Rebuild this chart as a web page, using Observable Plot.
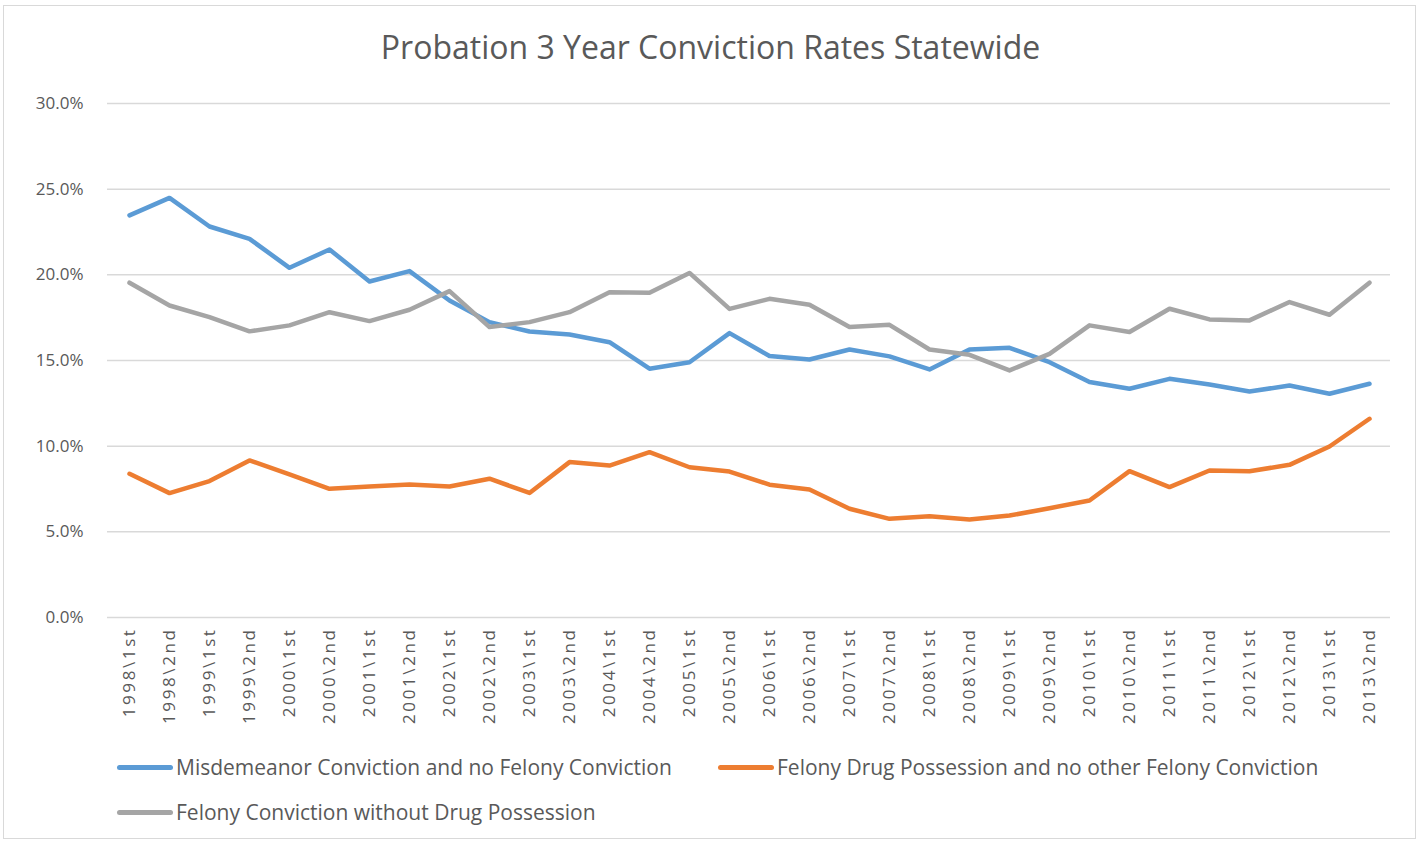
<!DOCTYPE html>
<html>
<head>
<meta charset="utf-8">
<script src="https://cdn.jsdelivr.net/npm/d3@7"></script>
<script src="https://cdn.jsdelivr.net/npm/@observablehq/plot@0.6"></script>
<style>
  body { margin: 0; background: #fff; font-family: "Open Sans", sans-serif; }
  #frame { position: absolute; left: 3px; top: 5px; width: 1413px; height: 834px; border: 1px solid #d9d9d9; box-sizing: border-box; }
  #title { position: absolute; left: 0; top: 25px; width: 1421px; text-align: center; font-size: 32px; color: #595959; }
  #chart { position: absolute; left: 0; top: 0; }
  .leg { position: absolute; font-size: 21px; color: #595959; display: flex; align-items: center; white-space: nowrap; }
  .sw { width: 56px; height: 5px; border-radius: 3px; margin-right: 3px; }
  g[aria-label="x-axis tick label"] text { letter-spacing: 2.6px; }
</style>
</head>
<body>
<div id="frame"></div>
<div id="chart"></div>
<div id="title">Probation 3 Year Conviction Rates Statewide</div>
<div id="legend"></div>
<script>
const categories = ["1998\\1st","1998\\2nd","1999\\1st","1999\\2nd","2000\\1st","2000\\2nd","2001\\1st","2001\\2nd","2002\\1st","2002\\2nd","2003\\1st","2003\\2nd","2004\\1st","2004\\2nd","2005\\1st","2005\\2nd","2006\\1st","2006\\2nd","2007\\1st","2007\\2nd","2008\\1st","2008\\2nd","2009\\1st","2009\\2nd","2010\\1st","2010\\2nd","2011\\1st","2011\\2nd","2012\\1st","2012\\2nd","2013\\1st","2013\\2nd"];
const seriesNames = ["Misdemeanor Conviction and no Felony Conviction","Felony Drug Possession and no other Felony Conviction","Felony Conviction without Drug Possession"];
const seriesColors = ["#5b9bd5","#ed7d31","#a5a5a5"];
const misdemeanor = [23.47,24.49,22.82,22.10,20.41,21.48,19.61,20.22,18.50,17.24,16.69,16.52,16.07,14.52,14.90,16.60,15.26,15.06,15.64,15.24,14.48,15.64,15.74,14.90,13.74,13.35,13.93,13.60,13.19,13.54,13.06,13.64];
const drugPossession = [8.39,7.26,7.96,9.17,8.35,7.51,7.65,7.76,7.65,8.10,7.27,9.07,8.87,9.65,8.77,8.52,7.75,7.47,6.35,5.76,5.91,5.72,5.95,6.38,6.83,8.54,7.61,8.58,8.54,8.91,9.98,11.60];
const felony = [19.54,18.21,17.53,16.70,17.05,17.82,17.30,17.96,19.05,16.95,17.24,17.82,18.99,18.95,20.11,18.01,18.60,18.25,16.95,17.08,15.64,15.33,14.42,15.39,17.05,16.66,18.02,17.40,17.34,18.41,17.67,19.54];
const yTicks = [0,0.05,0.10,0.15,0.20,0.25,0.30];

const allSeries = [misdemeanor, drugPossession, felony];
const rows = [];
allSeries.forEach((vals, s) => vals.forEach((v, i) => rows.push({cat: categories[i], value: v / 100, series: seriesNames[s]})));

const plot = Plot.plot({
  width: 1421,
  height: 740,
  marginTop: 103,
  marginBottom: 123,
  marginLeft: 107,
  marginRight: 31,
  style: {fontFamily: "Open Sans, sans-serif", color: "#595959", background: "transparent"},
  x: {type: "point", domain: categories, padding: 0.5, label: null},
  y: {domain: [0, 0.30], label: null},
  color: {domain: seriesNames, range: seriesColors},
  marks: [
    Plot.ruleY(yTicks, {stroke: "#d9d9d9", strokeWidth: 1.5}),
    Plot.axisY({ticks: yTicks, tickFormat: d3.format(".1%"), tickSize: 0, tickPadding: 24, fontSize: 17, label: null}),
    Plot.axisX({tickSize: 0, tickPadding: 10, tickRotate: -90, fontSize: 17, label: null}),
    Plot.line(rows, {x: "cat", y: "value", z: "series", stroke: "series", strokeWidth: 4.5, strokeLinecap: "round", strokeLinejoin: "round"})
  ]
});
document.getElementById("chart").appendChild(plot);

const legend = document.getElementById("legend");
const legendPos = [[117, 753], [718, 753], [117, 798]];
seriesNames.forEach((name, i) => {
  const el = document.createElement("div");
  el.className = "leg";
  el.style.left = legendPos[i][0] + "px";
  el.style.top = legendPos[i][1] + "px";
  el.innerHTML = `<div class="sw" style="background:${seriesColors[i]}"></div><span>${name}</span>`;
  legend.appendChild(el);
});
</script>
</body>
</html>
